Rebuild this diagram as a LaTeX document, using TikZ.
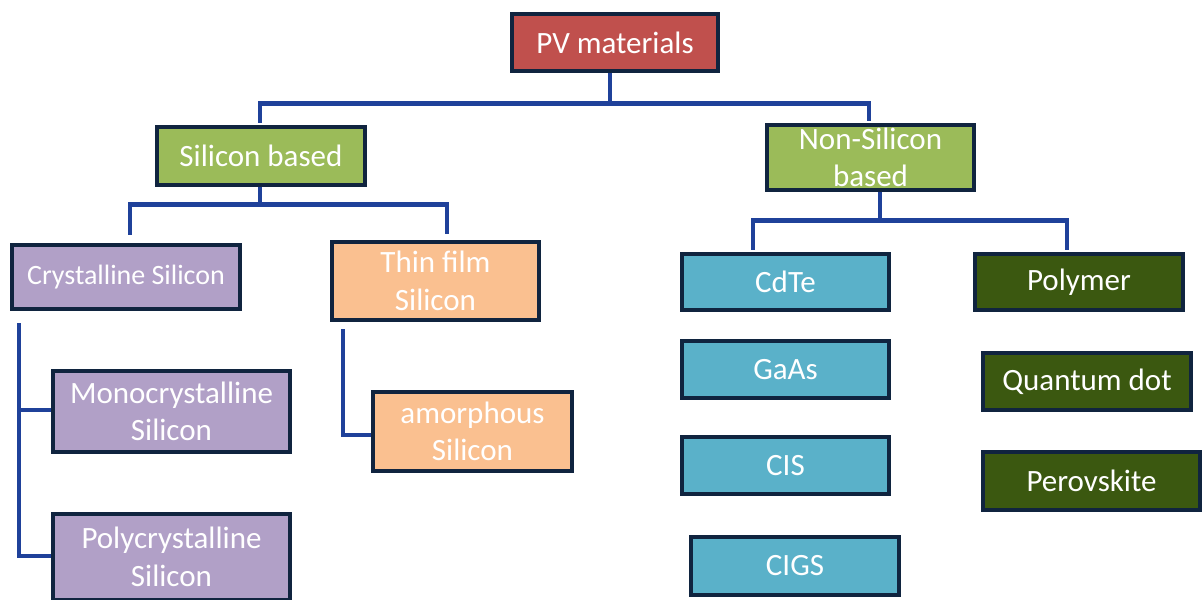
\documentclass[tikz,border=0pt]{standalone}
\usepackage{fontspec}
\setmainfont{Carlito}
\usetikzlibrary{calc}

\definecolor{pvred}{HTML}{C0504D}
\definecolor{leaf}{HTML}{9BBB59}
\definecolor{lilac}{HTML}{B1A0C7}
\definecolor{peach}{HTML}{FAC090}
\definecolor{sky}{HTML}{5AB1C9}
\definecolor{moss}{HTML}{3B5810}
\definecolor{edge}{HTML}{10243F}
\definecolor{link}{HTML}{1F419A}

\tikzset{
  box/.style={draw=edge, line width=4.5pt, text=white, inner sep=0pt,
    align=center, font=\fontsize{31}{37.5}\selectfont},
  conn/.style={draw=link, line width=4.5pt, line join=miter}
}

\begin{document}
\begin{tikzpicture}[x=1pt, y=-1pt]
\useasboundingbox (0,0) rectangle (1203,600);
\clip (0,0) rectangle (1203,600);

% root
\node[box, fill=pvred, minimum width=206, minimum height=57] (pv) at (615,42.5) {PV materials};

% second level
\node[box, fill=leaf, minimum width=208, minimum height=58] (sil) at (261,156) {Silicon based};
\node[box, fill=leaf, minimum width=207, minimum height=65] (nonsil) at (870.5,157.5) {Non-Silicon\\based};

% silicon branch
\node[box, fill=lilac, minimum width=228, minimum height=64,
      font=\fontsize{28}{34}\selectfont] (cryst) at (126,277) {Crystalline Silicon};
\node[box, fill=peach, minimum width=207, minimum height=78] (thin) at (435.5,281) {Thin film\\Silicon};
\node[box, fill=lilac, minimum width=237, minimum height=81] (mono) at (171.5,411.5) {Monocrystalline\\Silicon};
\node[box, fill=lilac, minimum width=237, minimum height=86] (poly) at (171.5,557) {Polycrystalline\\Silicon};
\node[box, fill=peach, minimum width=199, minimum height=79] (amorph) at (472.5,431.5) {amorphous\\Silicon};

% non-silicon branch
\node[box, fill=sky, minimum width=207, minimum height=56] (cdte) at (785.5,282) {CdTe};
\node[box, fill=sky, minimum width=207, minimum height=57] (gaas) at (785.5,369.5) {GaAs};
\node[box, fill=sky, minimum width=207, minimum height=57] (cis) at (785.5,465.5) {CIS};
\node[box, fill=sky, minimum width=208, minimum height=58] (cigs) at (795,566) {CIGS};
\node[box, fill=moss, minimum width=208, minimum height=56] (polymer) at (1079,282) {Polymer};
\node[box, fill=moss, minimum width=208, minimum height=57] (qdot) at (1087,381.5) {Quantum dot};
\node[box, fill=moss, minimum width=217, minimum height=58] (perov) at (1091.5,481) {Perovskite};

% root to second level
\draw[conn] ([xshift=-5pt]pv.south) -- ++(0,30) coordinate (j1)
  -| ([shift={(-1,-2)}]sil.north);
\draw[conn] (j1) -| ([shift={(-1.5,-2)}]nonsil.north);

% silicon based to its children
\draw[conn] ([xshift=-1pt]sil.south) -- ++(0,17) coordinate (j2)
  -| ([shift={(4,-8)}]cryst.north);
\draw[conn] (j2) -| ([shift={(11.5,-6)}]thin.north);

% non-silicon based to its children
\draw[conn] ([xshift=9.5pt]nonsil.south) -- ++(0,28) coordinate (j3)
  -| ([shift={(-32.5,-2)}]cdte.north);
\draw[conn] (j3) -| ([shift={(-12,-2)}]polymer.north);

% crystalline silicon to mono / poly
\coordinate (c0) at ([shift={(9,12)}]cryst.south west);
\draw[conn] (c0) |- ([yshift=1.5pt]mono.west);
\draw[conn] (c0) |- ([yshift=1pt]poly.west);

% thin film to amorphous
\coordinate (c1) at ([shift={(13,7)}]thin.south west);
\draw[conn] (c1) |- ([shift={(0,3.5)}]amorph.west);
\end{tikzpicture}
\end{document}
